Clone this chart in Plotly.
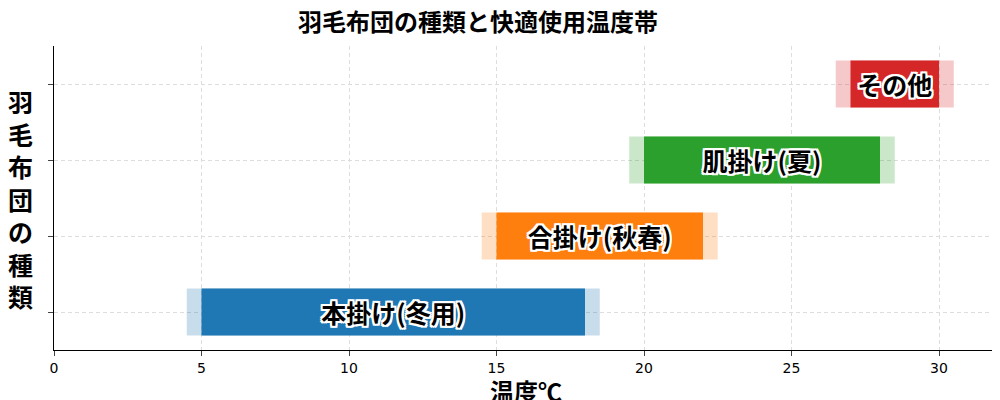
import plotly.graph_objs as go

categories = ['本掛け(冬用)', '合掛け(秋春)', '肌掛け(夏)', 'その他']
temp_min = [5, 15, 20, 27]
temp_max = [18, 22, 28, 30]
range_min = [4.5, 14.5, 19.5, 26.5]
range_max = [18.5, 22.5, 28.5, 30.5]
colors = ['#1f77b4', '#ff7f0e', '#2ca02c', '#d62728']
light = ['rgba(31,119,180,0.25)', 'rgba(255,127,14,0.25)', 'rgba(44,160,44,0.25)', 'rgba(214,39,40,0.25)']

FONT = 'Noto Sans CJK JP'
outline = ('2px 0 0 white, -2px 0 0 white, 0 2px 0 white, 0 -2px 0 white, '
           '2px 2px 0 white, -2px -2px 0 white, 2px -2px 0 white, -2px 2px 0 white')

fig = go.Figure()
fig.add_trace(go.Bar(
    y=categories, x=[b - a for a, b in zip(range_min, range_max)], base=range_min,
    orientation='h', marker=dict(color=light, line=dict(width=0)), width=0.62,
    hoverinfo='skip', showlegend=False))
fig.add_trace(go.Bar(
    y=categories, x=[b - a for a, b in zip(temp_min, temp_max)], base=temp_min,
    orientation='h', marker=dict(color=colors, line=dict(width=0)), width=0.62,
    text=categories, textposition='inside', insidetextanchor='middle',
    textfont=dict(family=FONT, size=25, color='black', weight='bold', shadow=outline),
    showlegend=False))

fig.update_layout(
    width=1000, height=400, barmode='overlay',
    margin=dict(l=46, r=10, t=38, b=58, autoexpand=False),
    plot_bgcolor='white', paper_bgcolor='white',
    font=dict(family=FONT),
    title=dict(text='<b>羽毛布団の種類と快適使用温度帯</b>', x=0.47, y=0.985,
               xanchor='center', yanchor='top', font=dict(size=24, color='black')),
)
fig.add_annotation(text='<b>' + '<br>'.join('羽毛布団の種類') + '</b>',
                   xref='paper', yref='paper', x=-0.035, y=0.5, xanchor='center',
                   yanchor='middle', showarrow=False, textangle=0,
                   font=dict(size=25, color='black'), align='center')
fig.update_xaxes(range=[0, 32], tick0=0, dtick=5, showline=True, linecolor='black',
                 ticks='outside', ticklen=5, automargin=False,
                 tickfont=dict(size=14, family='DejaVu Sans', color='black'),
                 showgrid=True, gridcolor='#dddddd', griddash='4px,3px', zeroline=False,
                 title=dict(text='<b>温度℃</b>', font=dict(size=24, color='black'), standoff=4))
fig.update_yaxes(range=[-0.5, 3.5], showline=True, linecolor='black', ticks='outside',
                 ticklen=5, showticklabels=False, showgrid=True, gridcolor='#dddddd',
                 griddash='4px,3px', automargin=False)

fig.write_html("out.html")
